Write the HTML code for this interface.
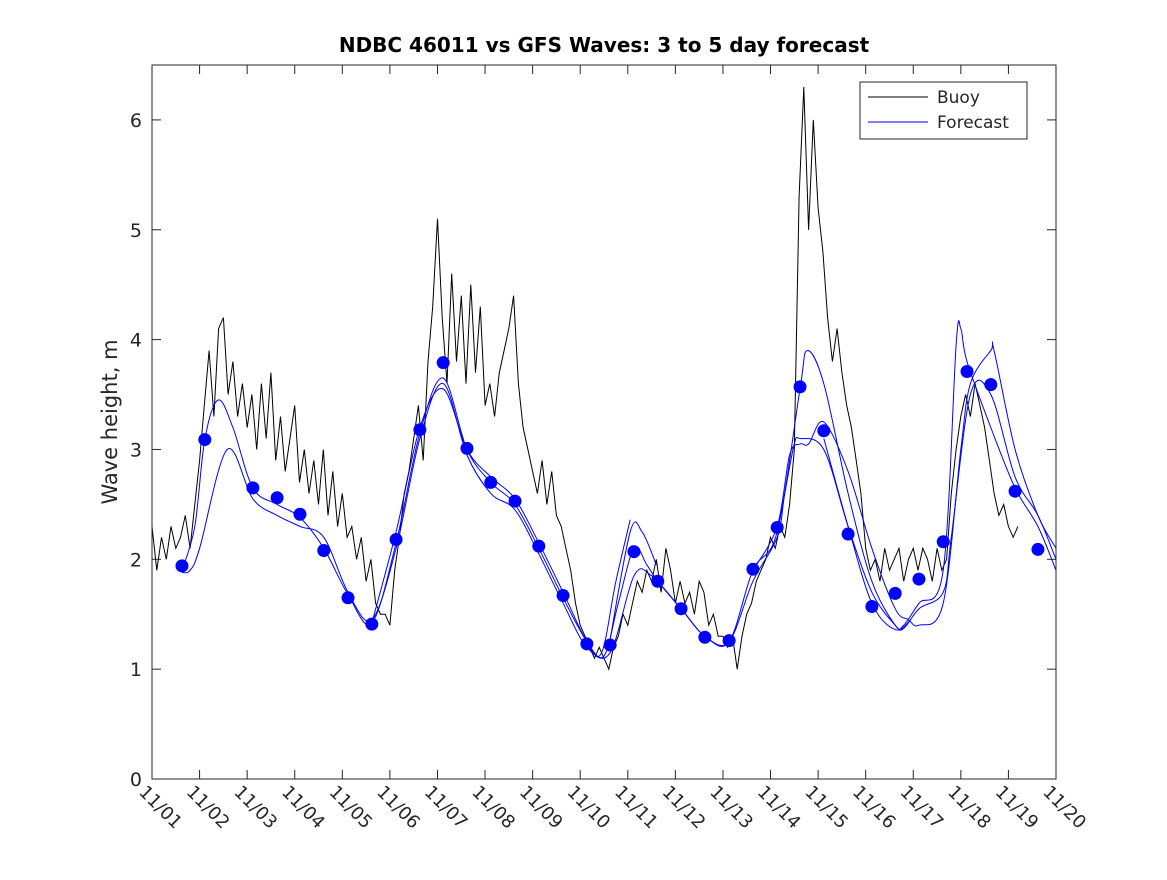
<!DOCTYPE html>
<html><head><meta charset="utf-8"><style>
body{margin:0;background:#fff}
svg text{font-family:"DejaVu Sans","Liberation Sans",sans-serif;fill:#262626}
</style></head><body>
<svg id="chart" width="1167" height="875" xmlns="http://www.w3.org/2000/svg"></svg>
<script>
const buoyValues=[2.3,1.9,2.2,2.0,2.3,2.1,2.2,2.4,2.1,2.5,2.9,
3.4,3.9,3.3,4.1,4.2, 3.5,3.8,3.3,3.6,3.2, 3.5,3.0,3.6,3.1,3.7, 2.9,3.3,2.8,3.1,3.4,
2.7,3.0,2.6,2.9,2.5, 3.0,2.4,2.8,2.3,2.6, 2.2,2.3,2.0,2.2,1.8, 2.0,1.6,1.5,1.5,1.4,
1.9,2.2,2.6,2.8,3.1, 3.4,2.9,3.8,4.3,5.1, 4.2,3.6,4.6,3.8,4.4, 3.6,4.5,3.7,4.3,3.4,
3.6,3.3,3.7,3.9,4.1, 4.4,3.6,3.2,3.0,2.8, 2.6,2.9,2.5,2.8,2.4, 2.3,2.1,1.9,1.6,1.4,
1.3,1.2,1.1,1.2,1.1, 1.0,1.2,1.3,1.5,1.4, 1.6,1.8,1.7,1.9,1.8, 2.0,1.7,2.1,1.9,1.6,
1.8,1.6,1.7,1.5,1.8, 1.7,1.4,1.5,1.3,1.3, 1.2,1.3,1.0,1.3,1.5, 1.6,1.8,1.9,2.0,2.2,
2.1,2.3,2.2,2.5,3.0, 5.3,6.3,5.0,6.0,5.2, 4.8,4.2,3.8,4.1,3.7, 3.4,3.2,2.9,2.6,2.1,
1.9,2.0,1.8,2.1,1.9, 2.0,2.1,1.8,2.0,2.1, 1.9,2.1,2.0,1.8,2.1, 1.9,2.0,2.6,3.0,3.3,
3.5,3.3,3.6,3.4,3.2, 2.9,2.6,2.4,2.5,2.3, 2.2,2.3];
const buoyStep=0.1;

const fcDaysA=[0.63,0.9,1.11,1.39,1.7,2.12,2.63,3.11,3.61,4.12,4.62,5.13,5.63,6.12,6.62,7.12,7.63,8.13,8.64,9.14,9.5,9.8,10.13,10.4,10.63,11.12,11.62,12.13,12.63,13.14,13.62,13.77,14.12,14.63,15.13,15.62,15.8,16.12,16.63,16.9,17.0,17.13,17.63,18.14,18.62,19.0];
const fcValsA=[1.9,2.3,3.09,3.45,3.2,2.65,2.5,2.38,2.1,1.68,1.42,2.15,3.15,3.65,3.0,2.7,2.5,2.1,1.65,1.25,1.12,1.6,2.1,1.95,1.8,1.55,1.3,1.25,1.9,2.25,3.55,3.9,3.6,2.6,1.8,1.4,1.4,1.6,1.9,3.95,4.1,3.8,3.2,2.65,2.3,1.9];
const fcDaysB=[0.63,0.8,1.0,1.58,2.12,2.63,3.11,3.61,4.12,4.62,5.13,5.63,6.12,6.62,7.12,7.63,8.13,8.64,9.14,9.63,10.13,10.5,11.12,11.62,12.13,12.63,13.14,13.3,13.5,13.62,14.12,14.63,15.13,15.62,15.8,16.12,16.63,16.8,17.2,17.63,18.14,18.62,19.0];
const fcValsB=[1.88,1.9,2.1,3.0,2.55,2.4,2.3,2.2,1.7,1.45,2.1,3.1,3.6,2.95,2.6,2.45,2.05,1.6,1.2,1.15,1.85,1.85,1.55,1.3,1.25,1.8,2.2,2.6,3.05,3.1,3.0,2.3,1.7,1.4,1.37,1.55,1.7,2.2,3.5,3.5,2.75,2.4,2.0];
const fcDaysC=[4.62,5.13,5.63,6.12,6.62,7.12,7.63,8.13,8.64,9.14,9.45,9.75,10.05];
const fcValsC=[1.42,2.25,3.2,3.55,3.0,2.75,2.55,2.15,1.7,1.25,1.15,1.8,2.36];
const fcDaysD=[9.6,10.05,10.3,10.6];
const fcValsD=[1.2,2.25,2.25,1.95];
const fcDaysE=[12.63,13.14,13.4,13.62,13.8,14.12,14.63,15.13,15.62,15.9,16.12,16.63,17.0,17.2,17.63,17.7,18.14,18.62,19.0];
const fcValsE=[1.9,2.3,2.95,3.05,3.05,3.25,2.8,2.1,1.55,1.45,1.4,1.6,3.0,3.6,3.9,3.9,3.0,2.4,2.1];
const fcDaysF=[14.12,14.63,15.13,15.62,15.95];
const fcValsF=[3.1,2.3,1.6,1.36,1.45];

const markerDays=[0.63,1.11,2.12,2.63,3.11,3.61,4.12,4.62,5.13,5.63,6.12,6.62,7.12,7.63,8.13,8.64,9.14,9.63,10.13,10.63,11.12,11.62,12.13,12.63,13.14,13.62,14.12,14.63,15.13,15.62,16.12,16.63,17.13,17.63,18.14,18.62];
const markerValues=[1.94,3.09,2.65,2.56,2.41,2.08,1.65,1.41,2.18,3.18,3.79,3.01,2.70,2.53,2.12,1.67,1.23,1.22,2.07,1.80,1.55,1.29,1.26,1.91,2.29,3.57,3.17,2.23,1.57,1.69,1.82,2.16,3.71,3.59,2.62,2.09];
const xTickLabels=["11/01","11/02","11/03","11/04","11/05","11/06","11/07","11/08","11/09","11/10","11/11","11/12","11/13","11/14","11/15","11/16","11/17","11/18","11/19","11/20"];
const yTicks=[0,1,2,3,4,5,6];

const L=152,R=1056,T=65,B=779;
const xs=d=>L+d*(R-L)/19;
const ys=v=>B-v*(B-T)/6.5;
const svg=document.getElementById('chart');
const NS='http://www.w3.org/2000/svg';
function mk(tag,attrs,parent){const e=document.createElementNS(NS,tag);for(const k in attrs)e.setAttribute(k,attrs[k]);(parent||svg).appendChild(e);return e;}

const clip=mk('clipPath',{id:'pc'});mk('rect',{x:L,y:T,width:R-L,height:B-T},clip);

function line(days,vals,color,name){
  const p=mk('polyline',{points:vals.map((v,i)=>xs(days[i]).toFixed(1)+','+ys(v).toFixed(1)).join(' '),fill:'none',stroke:color,'stroke-width':1,'clip-path':'url(#pc)'});
  
  
}
function smooth(days,vals,name){
  const P=vals.map((v,i)=>[xs(days[i]),ys(v)]);
  let d='M'+P[0][0].toFixed(1)+','+P[0][1].toFixed(1);
  for(let i=0;i<P.length-1;i++){
    const p0=P[Math.max(0,i-1)],p1=P[i],p2=P[i+1],p3=P[Math.min(P.length-1,i+2)];
    const c1=[p1[0]+(p2[0]-p0[0])/6,p1[1]+(p2[1]-p0[1])/6];
    const c2=[p2[0]-(p3[0]-p1[0])/6,p2[1]-(p3[1]-p1[1])/6];
    d+=` C${c1[0].toFixed(1)},${c1[1].toFixed(1)} ${c2[0].toFixed(1)},${c2[1].toFixed(1)} ${p2[0].toFixed(1)},${p2[1].toFixed(1)}`;
  }
  const p=mk('path',{d:d,fill:'none',stroke:'#0000ff','stroke-width':1,'clip-path':'url(#pc)'});
  
  
}
line(buoyValues.map((_,i)=>i*buoyStep),buoyValues,'#000','buoy-line');
smooth(fcDaysA,fcValsA,'forecast-line-a');
smooth(fcDaysB,fcValsB,'forecast-line-b');
smooth(fcDaysC,fcValsC,'forecast-line-c');
smooth(fcDaysD,fcValsD,'forecast-line-d');
smooth(fcDaysE,fcValsE,'forecast-line-e');
smooth(fcDaysF,fcValsF,'forecast-line-f');
markerDays.forEach((d,i)=>{
  const c=mk('circle',{cx:xs(d),cy:ys(markerValues[i]),r:6.5,fill:'#0000ff'});
  
  
});

const frame=mk('rect',{x:L,y:T,width:R-L,height:B-T,fill:'none',stroke:'#262626','stroke-width':1});



yTicks.forEach(v=>{
  const y=ys(v);
  mk('line',{x1:L,x2:L+9,y1:y,y2:y,stroke:'#262626'});
  mk('line',{x1:R,x2:R-9,y1:y,y2:y,stroke:'#262626'});
  const t=mk('text',{x:L-10,y:y+7,'text-anchor':'end','font-size':19});
  t.textContent=v;
  
  
});
xTickLabels.forEach((lab,i)=>{
  const x=xs(i);
  mk('line',{x1:x,x2:x,y1:B,y2:B-9,stroke:'#262626'});
  mk('line',{x1:x,x2:x,y1:T,y2:T+9,stroke:'#262626'});
  const t=mk('text',{x:x-14,y:B+14,'font-size':18,transform:`rotate(45 ${x-14} ${B+14})`});
  t.textContent=lab;
  
  
});

const title=mk('text',{x:604,y:52,'text-anchor':'middle','font-size':20,'font-weight':'bold',style:'fill:#000'});
title.textContent='NDBC 46011 vs GFS Waves: 3 to 5 day forecast';


const yl=mk('text',{x:117,y:422,'text-anchor':'middle','font-size':21,transform:'rotate(-90 117 422)'});
yl.textContent='Wave height, m';



const lg=mk('g',{});


mk('rect',{x:860,y:82,width:167,height:57,fill:'#fff',stroke:'#262626'},lg);
mk('line',{x1:868,x2:928,y1:97,y2:97,stroke:'#000'},lg);
mk('line',{x1:868,x2:928,y1:122,y2:122,stroke:'#0000ff'},lg);
const t1=mk('text',{x:937,y:103,'font-size':17},lg);t1.textContent='Buoy';


const t2=mk('text',{x:937,y:128,'font-size':17},lg);t2.textContent='Forecast';


</script>
</body></html>
